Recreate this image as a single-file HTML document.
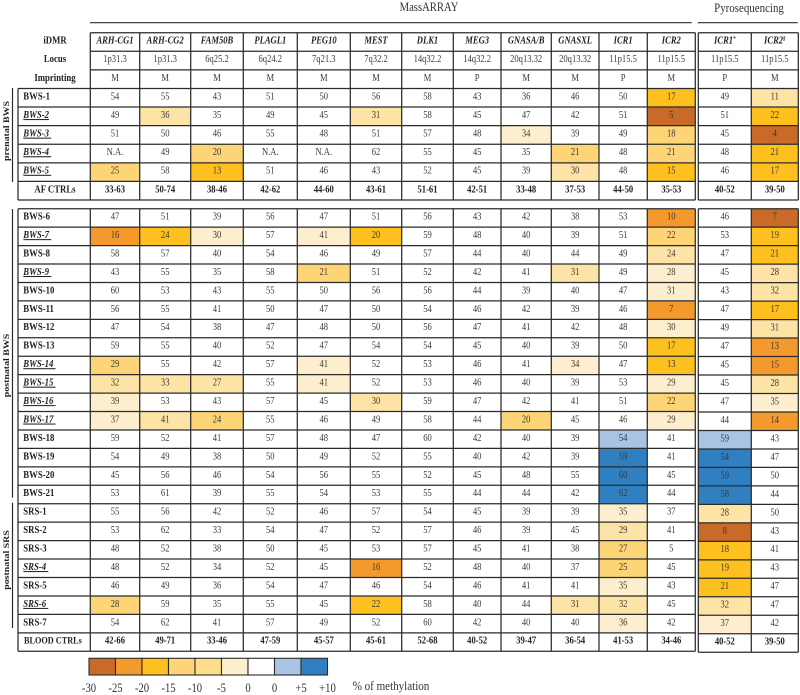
<!DOCTYPE html>
<html lang="en">
<head>
<meta charset="utf-8">
<title>Methylation heatmap</title>
<style>
html,body{margin:0;padding:0;background:#fff;width:800px;height:695px;overflow:hidden}
svg{display:block;filter:blur(.35px)}
text{font-family:"Liberation Serif",serif;fill:#2f2f2f}
.cell{font-size:10.2px;text-anchor:middle;fill:#3a3a3a}
.bold{font-weight:bold;fill:#222}
.head{font-size:10.2px;font-weight:bold;font-style:italic;text-anchor:middle;fill:#222}
.row{font-size:10.4px;font-weight:bold;fill:#222}
.rowi{font-size:10.4px;font-weight:bold;font-style:italic;text-decoration:underline;fill:#222}
.side{font-size:9.9px;font-weight:bold;text-anchor:middle;fill:#222}
.leg{font-size:13px;text-anchor:middle;fill:#333}
</style>
</head>
<body>
<svg id="chart" xmlns="http://www.w3.org/2000/svg" width="800" height="695" viewBox="0 0 800 695">
  <text transform="translate(429,11) scale(.82,1)" font-size="13" text-anchor="middle" style="fill:#333">MassARRAY</text>
  <line x1="90" x2="691.7" y1="22.7" y2="22.7" stroke="#2b2b2b" stroke-width="1.2"/>
  <text transform="translate(749,12) scale(.84,1)" font-size="13" text-anchor="middle" style="fill:#333">Pyrosequencing</text>
  <line x1="697.7" x2="797.7" y1="22.7" y2="22.7" stroke="#2b2b2b" stroke-width="1.2"/>

  <line x1="12.5" x2="12.5" y1="88" y2="182" stroke="#2b2b2b" stroke-width="1.2"/>
  <text class="side" transform="translate(9,131) rotate(-90) scale(1,.84)">prenatal BWS</text>
  <line x1="12.5" x2="12.5" y1="209" y2="497.7" stroke="#2b2b2b" stroke-width="1.2"/>
  <text class="side" transform="translate(9,365.5) rotate(-90) scale(1,.84)">postnatal BWS</text>
  <line x1="12.5" x2="12.5" y1="502.7" y2="628" stroke="#2b2b2b" stroke-width="1.2"/>
  <text class="side" transform="translate(9,560) rotate(-90) scale(1,.84)">postnatal SRS</text>

  <g id="cells"></g>
  <g id="labels"></g>
  <g id="grid"></g>
  <g id="legend"></g>
  <text transform="translate(352.7,690) scale(.85,1)" font-size="13" style="fill:#333">% of methylation</text>
</svg>

<script>
const columnNames = ["ARH-CG1","ARH-CG2","FAM50B","PLAGL1","PEG10","MEST","DLK1","MEG3","GNASA/B","GNASXL","ICR1","ICR2","ICR1*","ICR2§"];
const loci = ["1p31.3","1p31.3","6q25.2","6q24.2","7q21.3","7q32.2","14q32.2","14q32.2","20q13.32","20q13.32","11p15.5","11p15.5","11p15.5","11p15.5"];
const imprinting = ["M","M","M","M","M","M","M","P","M","M","P","M","P","M"];

const prenatalNames = ["BWS-1","BWS-2","BWS-3","BWS-4","BWS-5"];
const postnatalNames = ["BWS-6","BWS-7","BWS-8","BWS-9","BWS-10","BWS-11","BWS-12","BWS-13","BWS-14","BWS-15","BWS-16","BWS-17","BWS-18","BWS-19","BWS-20","BWS-21","SRS-1","SRS-2","SRS-3","SRS-4","SRS-5","SRS-6","SRS-7"];
const underlinedRows = ["BWS-2","BWS-3","BWS-4","BWS-5","BWS-7","BWS-9","BWS-14","BWS-15","BWS-16","BWS-17","SRS-4","SRS-6"];

const afControls = ["33-63","50-74","38-46","42-62","44-60","43-61","51-61","42-51","33-48","37-53","44-50","35-53","40-52","39-50"];
const bloodControls = ["42-66","49-71","33-46","47-59","45-57","45-61","52-68","40-52","39-47","36-54","41-53","34-46","40-52","39-50"];

const prenatalValues = [
  [54,55,43,51,50,56,58,43,36,46,50,17,49,11],
  [49,36,35,49,45,31,58,45,47,42,51,5,51,22],
  [51,50,46,55,48,51,57,48,34,39,49,18,45,4],
  ["N.A.",49,20,"N.A.","N.A.",62,55,45,35,21,48,21,48,21],
  [25,58,13,51,46,43,52,45,39,30,48,15,46,17]
];
const prenatalLevels = [
  [0,0,0,0,0,0,0,0,0,0,0,4,0,2],
  [0,2,0,0,0,2,0,0,0,0,0,6,0,4],
  [0,0,0,0,0,0,0,0,1,0,0,3,0,6],
  [0,0,3,0,0,0,0,0,0,3,0,3,0,4],
  [3,0,4,0,0,0,0,0,0,2,0,4,0,4]
];
const postnatalValues = [
  [47,51,39,56,47,51,56,43,42,38,53,10,46,7],
  [16,24,30,57,41,20,59,48,40,39,51,22,53,19],
  [58,57,40,54,46,49,57,44,40,44,49,24,47,21],
  [43,55,35,58,21,51,52,42,41,31,49,28,45,28],
  [60,53,43,55,50,56,56,44,39,40,47,31,43,32],
  [56,55,41,50,47,50,54,46,42,39,46,7,47,17],
  [47,54,38,47,48,50,56,47,41,42,48,30,49,31],
  [59,55,40,52,47,54,54,45,40,39,50,17,47,13],
  [29,55,42,57,41,52,53,46,41,34,47,13,45,15],
  [32,33,27,55,41,52,53,46,40,39,53,29,45,28],
  [39,53,43,57,45,30,59,47,42,41,51,22,47,35],
  [37,41,24,55,46,49,58,44,20,45,46,29,44,14],
  [59,52,41,57,48,47,60,42,40,39,54,41,59,43],
  [54,49,38,50,49,52,55,40,42,39,59,41,54,47],
  [45,56,46,54,56,55,52,45,48,55,60,45,59,50],
  [53,61,39,55,54,53,55,44,44,42,62,44,58,44],
  [55,56,42,52,46,57,54,45,39,39,35,37,28,50],
  [53,62,33,54,47,52,57,46,39,45,29,41,8,43],
  [48,52,38,50,45,53,57,45,41,38,27,5,18,41],
  [48,52,34,52,45,16,52,48,40,37,25,45,19,43],
  [46,49,36,54,47,46,54,46,41,41,35,43,21,47],
  [28,59,35,55,45,22,58,40,44,31,32,45,32,47],
  [54,62,41,57,49,52,60,42,40,40,36,42,37,42]
];
const postnatalLevels = [
  [0,0,0,0,0,0,0,0,0,0,0,5,0,6],
  [5,4,1,0,1,4,0,0,0,0,0,3,0,4],
  [0,0,0,0,0,0,0,0,0,0,0,2,0,4],
  [0,0,0,0,3,0,0,0,0,2,0,1,0,2],
  [0,0,0,0,0,0,0,0,0,0,0,1,0,2],
  [0,0,0,0,0,0,0,0,0,0,0,5,0,4],
  [0,0,0,0,0,0,0,0,0,0,0,1,0,2],
  [0,0,0,0,0,0,0,0,0,0,0,4,0,5],
  [3,0,0,0,1,0,0,0,0,1,0,4,0,5],
  [2,2,2,0,1,0,0,0,0,0,0,1,0,2],
  [1,0,0,0,0,2,0,0,0,0,0,3,0,1],
  [1,2,3,0,0,0,0,0,3,0,0,1,0,5],
  [0,0,0,0,0,0,0,0,0,0,7,0,7,0],
  [0,0,0,0,0,0,0,0,0,0,8,0,8,0],
  [0,0,0,0,0,0,0,0,0,0,8,0,8,0],
  [0,0,0,0,0,0,0,0,0,0,8,0,8,0],
  [0,0,0,0,0,0,0,0,0,0,1,0,2,0],
  [0,0,0,0,0,0,0,0,0,0,2,0,6,0],
  [0,0,0,0,0,0,0,0,0,0,3,0,4,0],
  [0,0,0,0,0,5,0,0,0,0,3,0,4,0],
  [0,0,0,0,0,0,0,0,0,0,1,0,4,0],
  [3,0,0,0,0,4,0,0,0,2,2,0,2,0],
  [0,0,0,0,0,0,0,0,0,0,1,0,1,0]
];
const legendLabels = ["-30","-25","-20","-15","-10","-5","0","0","+5","+10"];
const legendLevels = [6,5,4,3,2.5,1,0,7,8];

/* ---------- axis functions & styling ---------- */
const NS = "http://www.w3.org/2000/svg";
const colEdges = [90.3,139.7,190.7,243.3,297.3,350.3,401.7,453.3,501,551.3,599,647.3,695.3,698.3,751.3,798.3];
const colorForLevel = function (l) {
  if (l === 0) return "#ffffff";
  if (l === 1) return "#fdefcd";
  if (l === 2) return "#fde3a6";
  if (l === 2.5) return "#fddc8a";
  if (l === 3) return "#fdd476";
  if (l === 4) return "#fdc01e";
  if (l === 5) return "#f49a2c";
  if (l === 6) return "#c96a28";
  if (l === 7) return "#a9c3e5";
  return "#2f7fc1";
};
const colLeft = function (c) { return colEdges[c < 12 ? c : c + 1]; };
const colRight = function (c) { return colEdges[c < 12 ? c + 1 : c + 2]; };
const colMid = function (c) { return (colLeft(c) + colRight(c)) / 2; };
const topRowY = function (r) { return 32.7 + r * 18.59; };
const lowRowY = function (r, c) { return 208.7 + (c >= 12 ? r * 0.04 : 0) + r * 18.44; };
const squeeze = function (x, y, sx) { return "translate(" + x + "," + y + ") scale(" + sx + ",1)"; };
const BASE = 10.9;
const SX = 0.84;

const cellsG = document.getElementById("cells");
const labelsG = document.getElementById("labels");
const gridG = document.getElementById("grid");
const legendG = document.getElementById("legend");

function mk(tag, parent, attrs, txt) {
  const el = document.createElementNS(NS, tag);
  for (const k in attrs) el.setAttribute(k, attrs[k]);
  if (txt !== undefined) el.textContent = txt;
  parent.appendChild(el);
  return el;
}
function rowLabel(name, y) {
  const under = underlinedRows.indexOf(name) >= 0;
  const shown = under && name !== "BWS-2" ? name + "\u00a0" : name;
  const el = mk("text", labelsG, { transform: squeeze(23.3, y, SX), "class": under ? "rowi" : "row" }, shown);
  
  
}
function centerLabel(name, y, key) {
  const el = mk("text", labelsG, { transform: squeeze(55, y, SX), "class": "row", "text-anchor": "middle" }, name);
  
  
}
function valueCell(rowName, c, top, height, value, level) {
  const rect = mk("rect", cellsG, { x: colLeft(c), y: top, width: colRight(c) - colLeft(c), height: height, fill: colorForLevel(level) });
  
  
  const t = mk("text", labelsG, { transform: squeeze(colMid(c), top + BASE, SX), "class": "cell" }, String(value));
  
  
}
function hLine(x1, x2, y, w) {
  const l = mk("line", gridG, { x1: x1, x2: x2, y1: y, y2: y, stroke: "#2b2b2b", "stroke-width": w });
  
  
}
function vLine(x, y1, y2, w) {
  const l = mk("line", gridG, { x1: x, x2: x, y1: y1, y2: y2, stroke: "#2b2b2b", "stroke-width": w });
  
  
}

/* ---------- header rows ---------- */
centerLabel("iDMR", topRowY(0) + BASE, "idmr-header");
centerLabel("Locus", topRowY(1) + BASE, "locus-header");
centerLabel("Imprinting", topRowY(2) + BASE, "imprinting-header");
columnNames.forEach(function (name, c) {
  let t = mk("text", labelsG, { transform: squeeze(colMid(c), topRowY(0) + BASE, SX), "class": "head" });
  
  
  if (name.endsWith("*") || name.endsWith("§")) {
    t.appendChild(document.createTextNode(name.slice(0, -1)));
    const s = mk("tspan", t, { "font-size": "6", dy: "-3" }, name.slice(-1));
    
    
  } else {
    t.textContent = name;
  }
  t = mk("text", labelsG, { transform: squeeze(colMid(c), topRowY(1) + BASE, SX), "class": "cell" }, loci[c]);
  
  
  t = mk("text", labelsG, { transform: squeeze(colMid(c), topRowY(2) + BASE, SX), "class": "cell" }, imprinting[c]);
  
  
});

/* ---------- prenatal block ---------- */
prenatalNames.forEach(function (name, i) {
  const top = topRowY(i + 3);
  rowLabel(name, top + BASE);
  prenatalValues[i].forEach(function (v, c) {
    valueCell(name, c, top, 18.59, v, prenatalLevels[i][c]);
  });
});
centerLabel("AF CTRLs", topRowY(8) + BASE, "af-controls-label");
afControls.forEach(function (v, c) {
  const t = mk("text", labelsG, { transform: squeeze(colMid(c), topRowY(8) + BASE, SX), "class": "cell bold" }, v);
  
  
});

/* ---------- postnatal block ---------- */
postnatalNames.forEach(function (name, i) {
  rowLabel(name, lowRowY(i, 0) + BASE);
  postnatalValues[i].forEach(function (v, c) {
    valueCell(name, c, lowRowY(i, c), 18.44, v, postnatalLevels[i][c]);
  });
});
const bloodLabel = mk("text", labelsG, { transform: squeeze(24, lowRowY(23, 0) + BASE, SX), "class": "row", style: "font-size:9.8px" }, "BLOOD CTRLs");


bloodControls.forEach(function (v, c) {
  const t = mk("text", labelsG, { transform: squeeze(colMid(c), lowRowY(23, c) + BASE, SX), "class": "cell bold" }, v);
  
  
});

/* ---------- grid ---------- */
const LW = 1.25;
for (let r = 0; r <= 9; r++) {
  hLine(r < 3 ? colEdges[0] : 18, colEdges[12], topRowY(r), LW);
  hLine(colEdges[13], colEdges[15], topRowY(r), LW);
}
for (let r = 0; r <= 24; r++) {
  hLine(18, colEdges[12], lowRowY(r, 0), LW);
  hLine(colEdges[13], colEdges[15], lowRowY(r, 12), LW);
}
vLine(18, topRowY(3), topRowY(9), LW);
vLine(18, lowRowY(0, 0), lowRowY(24, 0), LW);
colEdges.forEach(function (x, i) {
  if (i <= 12) {
    vLine(x, topRowY(0), topRowY(9), LW);
    vLine(x, lowRowY(0, 0), lowRowY(24, 0), LW);
  } else {
    vLine(x, topRowY(0), topRowY(9), LW);
    vLine(x, lowRowY(0, 12), lowRowY(24, 12), LW);
  }
});

/* ---------- legend ---------- */
const legX = function (i) { return 89 + i * 26.5; };
legendLevels.forEach(function (l, i) {
  const s = mk("rect", legendG, { x: legX(i), y: 658.3, width: 26.5, height: 16.7, fill: colorForLevel(l), stroke: "#2b2b2b", "stroke-width": 1.1 });
  
  
});
legendLabels.forEach(function (lab, i) {
  const t = mk("text", legendG, { transform: squeeze(legX(i), 692, 0.82), "class": "leg" }, lab);
  
  
});
</script>
</body>
</html>
